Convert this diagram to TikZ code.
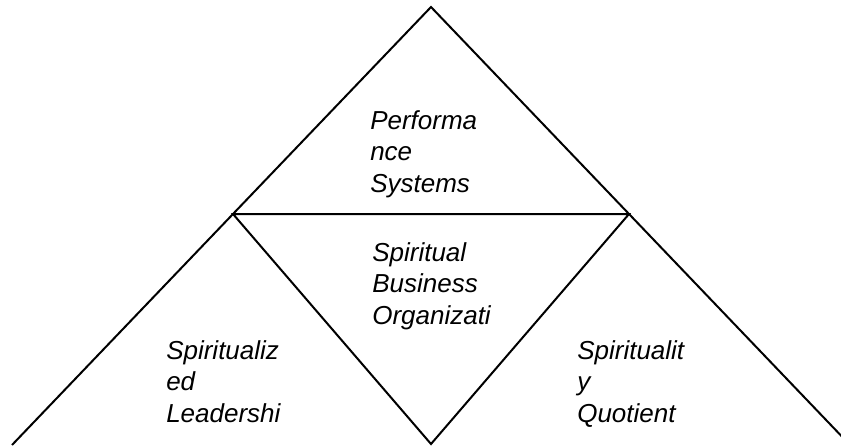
\documentclass[tikz,border=0pt]{standalone}
\usepackage{fontspec}
\setmainfont{Liberation Sans}
\tikzset{
  edge/.style={line width=1.5pt, line join=miter},
  label/.style={anchor=base west, inner sep=0pt, align=left,
    font=\itshape\fontsize{19.5}{23.6}\selectfont}
}
\begin{document}
\begin{tikzpicture}[x=0.75pt, y=-0.75pt]
\clip (0,0) rectangle (841,446); % page frame, cuts the outer legs
\coordinate (apex) at (431,7);
\coordinate (midL) at (233,214);
\coordinate (midR) at (629,214);
\coordinate (tip) at (431,444);
\coordinate (footL) at (12,445);
\coordinate (footR) at (850,445);
\draw[edge] (footL) -- (apex) -- (footR); % outer triangle
\draw[edge] (midL) -- (midR) -- (tip) -- cycle; % inner triangle
% base anchor sits on the last line
\node[label] (perf) at (370,192) {Performa\\nce\\Systems};
\node[label] (sbo) at (372,324) {Spiritual\\Business\\Organizati};
\node[label] (lead) at (166,422) {Spiritualiz\\ed\\Leadershi};
\node[label] (sq) at (577,422) {Spiritualit\\y\\Quotient};
\end{tikzpicture}
\end{document}
